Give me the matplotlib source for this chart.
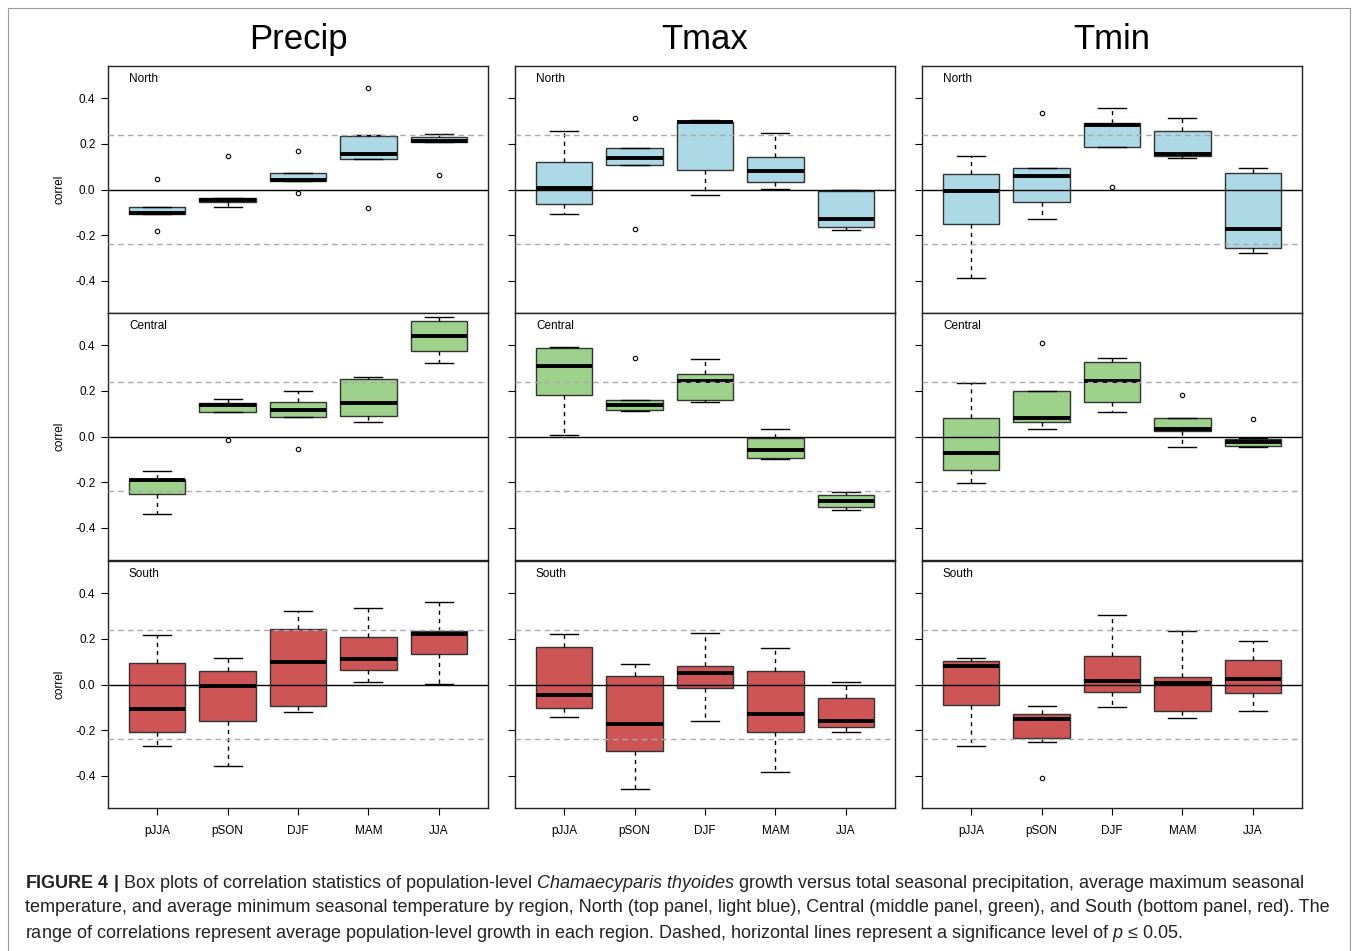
import matplotlib
matplotlib.use("Agg")
import matplotlib.pyplot as plt
from matplotlib.patches import Rectangle

plt.rcParams['font.family'] = ['Liberation Sans', 'DejaVu Sans']
plt.rcParams['axes.unicode_minus'] = False
plt.rcParams['mathtext.fontset'] = 'custom'
plt.rcParams['mathtext.rm'] = 'Liberation Sans'
plt.rcParams['mathtext.it'] = 'Liberation Sans:italic'
plt.rcParams['mathtext.bf'] = 'Liberation Sans:bold'

seasons = ["pJJA", "pSON", "DJF", "MAM", "JJA"]
variables = ["Precip", "Tmax", "Tmin"]
regions = ["North", "Central", "South"]
region_colors = ["#add8e6", "#9dd18c", "#cd5555"]
signif = 0.24

# (whislo, q1, med, q3, whishi) per season, plus outliers
precip_north_box = [(-0.107, -0.107, -0.101, -0.078, -0.078), (-0.076, -0.054, -0.047, -0.035, -0.035),
                    (0.036, 0.036, 0.041, 0.070, 0.070), (0.134, 0.134, 0.154, 0.236, 0.238),
                    (0.207, 0.207, 0.211, 0.230, 0.243)]
precip_north_out = [[0.047, -0.182], [0.147], [0.170, -0.017], [0.445, -0.079], [0.064]]

precip_central_box = [(-0.337, -0.253, -0.190, -0.184, -0.150), (0.107, 0.107, 0.137, 0.147, 0.166),
                      (0.086, 0.086, 0.115, 0.149, 0.200), (0.064, 0.088, 0.147, 0.250, 0.258),
                      (0.323, 0.374, 0.441, 0.504, 0.524)]
precip_central_out = [[], [-0.016], [-0.054], [], []]

precip_south_box = [(-0.269, -0.209, -0.108, 0.096, 0.215), (-0.355, -0.159, -0.007, 0.060, 0.116),
                    (-0.119, -0.092, 0.097, 0.243, 0.321), (0.013, 0.065, 0.111, 0.209, 0.336),
                    (0.003, 0.134, 0.220, 0.234, 0.362)]
precip_south_out = [[], [], [], [], []]

tmax_north_box = [(-0.108, -0.063, 0.006, 0.119, 0.255), (0.109, 0.109, 0.138, 0.183, 0.183),
                  (-0.023, 0.086, 0.293, 0.295, 0.304), (0.003, 0.031, 0.079, 0.144, 0.245),
                  (-0.176, -0.162, -0.130, -0.007, -0.004)]
tmax_north_out = [[], [0.314, -0.172], [], [], []]

tmax_central_box = [(0.007, 0.182, 0.309, 0.387, 0.390), (0.112, 0.115, 0.136, 0.159, 0.159),
                    (0.150, 0.158, 0.242, 0.273, 0.340), (-0.098, -0.093, -0.060, -0.007, 0.034),
                    (-0.323, -0.307, -0.280, -0.254, -0.241)]
tmax_central_out = [[], [0.343], [], [], []]

tmax_south_box = [(-0.141, -0.103, -0.044, 0.166, 0.220), (-0.457, -0.289, -0.173, 0.038, 0.090),
                  (-0.160, -0.016, 0.049, 0.083, 0.224), (-0.381, -0.209, -0.129, 0.058, 0.161),
                  (-0.207, -0.188, -0.160, -0.057, 0.013)]
tmax_south_out = [[], [], [], [], []]

tmin_north_box = [(-0.386, -0.151, -0.006, 0.067, 0.148), (-0.128, -0.054, 0.060, 0.092, 0.092),
                  (0.186, 0.186, 0.281, 0.291, 0.358), (0.138, 0.147, 0.156, 0.256, 0.313),
                  (-0.278, -0.256, -0.173, 0.073, 0.092)]
tmin_north_out = [[], [0.335], [0.010], [], []]

tmin_central_box = [(-0.203, -0.145, -0.074, 0.079, 0.236), (0.034, 0.063, 0.083, 0.200, 0.200),
                    (0.105, 0.153, 0.242, 0.326, 0.342), (-0.048, 0.023, 0.032, 0.083, 0.083),
                    (-0.048, -0.041, -0.025, -0.010, -0.008)]
tmin_central_out = [[], [0.410], [], [0.181], [0.077]]

tmin_south_box = [(-0.268, -0.089, 0.080, 0.102, 0.115), (-0.253, -0.236, -0.150, -0.127, -0.095),
                  (-0.100, -0.031, 0.017, 0.125, 0.305), (-0.145, -0.116, 0.006, 0.033, 0.236),
                  (-0.115, -0.036, 0.022, 0.108, 0.191)]
tmin_south_out = [[], [-0.410], [], [], []]

panels = {
    ("Precip", "North"): (precip_north_box, precip_north_out),
    ("Precip", "Central"): (precip_central_box, precip_central_out),
    ("Precip", "South"): (precip_south_box, precip_south_out),
    ("Tmax", "North"): (tmax_north_box, tmax_north_out),
    ("Tmax", "Central"): (tmax_central_box, tmax_central_out),
    ("Tmax", "South"): (tmax_south_box, tmax_south_out),
    ("Tmin", "North"): (tmin_north_box, tmin_north_out),
    ("Tmin", "Central"): (tmin_central_box, tmin_central_out),
    ("Tmin", "South"): (tmin_south_box, tmin_south_out),
}

W, H = 1357, 951
fig = plt.figure(figsize=(W / 100, H / 100), dpi=100)

# outer frame
fig.patches.append(Rectangle((8 / W, -0.01), 1342 / W, 1 - 8 / H + 0.01, transform=fig.transFigure,
                             fill=False, edgecolor="#9a9a9a", linewidth=0.8))

col_x = [108, 515, 922]
col_w = 380
row_y = [66, 313, 561]
row_h = 247

for ci, var in enumerate(variables):
    for ri, reg in enumerate(regions):
        left = col_x[ci] / W
        bottom = 1 - (row_y[ri] + row_h) / H
        ax = fig.add_axes([left, bottom, col_w / W, row_h / H])
        boxes, outs = panels[(var, reg)]
        stats = []
        for s, o in zip(boxes, outs):
            stats.append(dict(whislo=s[0], q1=s[1], med=s[2], q3=s[3], whishi=s[4], fliers=o))
        ax.bxp(stats, positions=range(1, 6), widths=0.8, capwidths=0.4, patch_artist=True,
               boxprops=dict(facecolor=region_colors[ri], edgecolor="#333333", linewidth=1.0),
               medianprops=dict(color="black", linewidth=2.8, solid_capstyle="butt"),
               whiskerprops=dict(color="black", linewidth=1.0, linestyle=(0, (3, 3))),
               capprops=dict(color="black", linewidth=1.0),
               flierprops=dict(marker="o", markersize=3.2, markerfacecolor="none",
                               markeredgecolor="black", markeredgewidth=0.8))
        ax.axhline(0, color="black", linewidth=1.0, zorder=5)
        for v in (signif, -signif):
            ax.axhline(v, color="#aaaaaa", linewidth=1.0, linestyle=(0, (4, 3)), zorder=5)
        ax.set_xlim(0.3, 5.7)
        ax.set_ylim(-0.54, 0.54)
        ax.set_yticks([-0.4, -0.2, 0.0, 0.2, 0.4])
        ax.tick_params(axis="y", direction="out", length=5, width=0.8, labelsize=8.5, pad=4)
        if ci == 0:
            ax.set_yticklabels(["-0.4", "-0.2", "0.0", "0.2", "0.4"])
            ax.set_ylabel("correl", fontsize=8.5, labelpad=7)
        else:
            ax.set_yticklabels([])
        if ri == 2:
            ax.set_xticks(range(1, 6))
            ax.set_xticklabels(seasons)
            ax.tick_params(axis="x", direction="out", length=5, width=0.8, labelsize=8.5, pad=7)
        else:
            ax.set_xticks([])
        for sp in ax.spines.values():
            sp.set_linewidth(1.0)
            sp.set_color("#222222")
        ax.text(0.055, 0.947, reg, transform=ax.transAxes, fontsize=8.5, va="center", ha="left")
        if ri == 0:
            ax.set_title(var, fontsize=25, pad=12)

caption = [
    r"$\mathbf{FIGURE\ 4\ |}$ Box plots of correlation statistics of population-level $\mathit{Chamaecyparis\ thyoides}$"
    r" growth versus total seasonal precipitation, average maximum seasonal",
    "temperature, and average minimum seasonal temperature by region, North (top panel, light blue), "
    "Central (middle panel, green), and South (bottom panel, red). The",
    r"range of correlations represent average population-level growth in each region. Dashed, horizontal "
    r"lines represent a significance level of $\mathit{p}$ ≤ 0.05.",
]
for i, line in enumerate(caption):
    fig.text(25 / W, 1 - (883 + 25 * i) / H, line, fontsize=13, color="#222222", va="center", ha="left")

fig.savefig("out.png", dpi=100)
